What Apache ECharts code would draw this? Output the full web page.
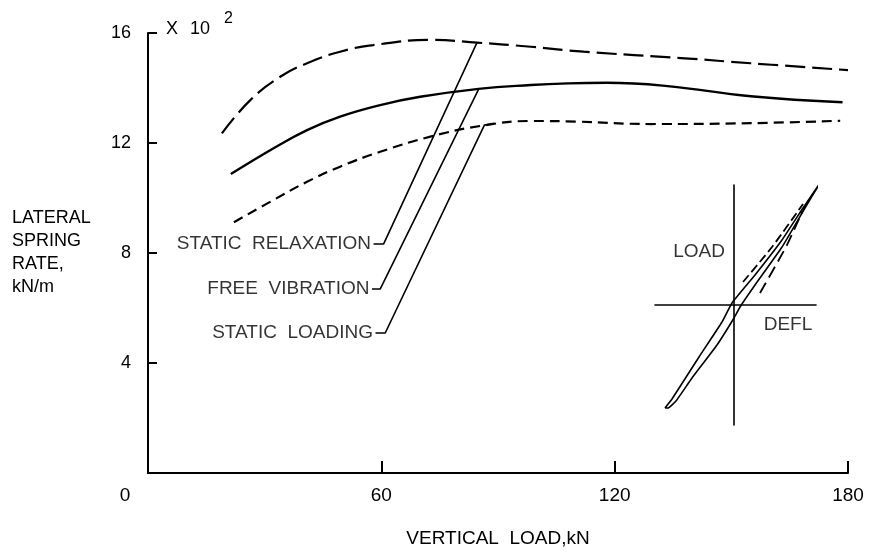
<!DOCTYPE html>
<html>
<head>
<meta charset="utf-8">
<script src="https://cdn.jsdelivr.net/npm/echarts@6/dist/echarts.min.js"></script>
<style>
html,body{margin:0;padding:0;background:#fff;}
#chart{width:870px;height:553px;}
</style>
</head>
<body>
<div id="chart"></div>
<script>
// ---- Data (vertical load kN, lateral spring rate x10^2 kN/m) ----
const relaxLoad = [19, 26.3, 34, 40.9, 49.4, 57.9, 72.6, 84.6, 98.4, 112, 138, 155, 180];
const relaxRate = [12.35, 13.56, 14.41, 14.90, 15.32, 15.56, 15.75, 15.65, 15.50, 15.32, 15.08, 14.90, 14.65];

const vibLoad = [21.3, 32.3, 40.9, 49.4, 59.7, 70, 85, 98.4, 108, 118, 133.6, 155, 178.6];
const vibRate = [10.87, 11.81, 12.47, 12.96, 13.38, 13.68, 13.97, 14.11, 14.17, 14.19, 14.07, 13.70, 13.48];

const loadingLoad = [22.1, 32.3, 40.9, 49.4, 59.7, 72.6, 85.5, 98.4, 110, 129.3, 155, 178];
const loadingRate = [9.12, 9.93, 10.59, 11.14, 11.68, 12.23, 12.62, 12.80, 12.78, 12.69, 12.72, 12.81];

const xTicks = [0, 60, 120, 180];
const yTicks = [0, 4, 8, 12, 16];

// leader lines (data coords) and their labels
const leaderNames = ['STATIC  RELAXATION', 'FREE  VIBRATION', 'STATIC  LOADING'];
const leaderX = [[58.0, 60.6, 84.6], [57.6, 59.7, 85.0], [58.5, 61.0, 86.5, 89]];
const leaderY = [[8.33, 8.33, 15.65], [6.69, 6.69, 13.95], [5.09, 5.09, 12.65, 12.72]];

// inset hysteresis sketch (defl, load; arbitrary units)
const loopDefl = [-69, -62, -35, -12, -2, 21, 48, 69, 86, 71, 48, 21, 6, 0, -17, -42, -58, -66, -69];
const loopLoad = [-103, -94, -52, -17, 2, 30, 65, 97, 122, 97, 58, 20, -2, -13, -40, -73, -96, -103, -103];
const dashUpDefl = [9, 38, 69];
const dashUpLoad = [23, 58, 101];
const dashLowDefl = [26, 53, 68];
const dashLowLoad = [12, 60, 93];
const insetNames = ['LOAD', 'DEFL'];
const insetDefl = [-35, 54];
const insetLoad = [53, -20];

const zip = (a, b) => a.map((v, i) => [v, b[i]]);
const FONT = '"Liberation Sans", Arial, sans-serif';
const lineBase = { type: 'line', smooth: 0.45, symbol: 'none', silent: true };

const chart = echarts.init(document.getElementById('chart'));

const series = [
  Object.assign({}, lineBase, { name: 'Static relaxation', data: zip(relaxLoad, relaxRate),
    lineStyle: { color: '#000', width: 2.2, type: [20, 7] } }),
  Object.assign({}, lineBase, { name: 'Free vibration', data: zip(vibLoad, vibRate),
    lineStyle: { color: '#000', width: 2.4, type: 'solid' } }),
  Object.assign({}, lineBase, { name: 'Static loading', data: zip(loadingLoad, loadingRate),
    lineStyle: { color: '#000', width: 2.2, type: [10, 6] } })
];

leaderX.forEach((xs, k) => {
  series.push({ type: 'line', smooth: false, symbol: 'none', silent: true,
    data: zip(xs, leaderY[k]), lineStyle: { color: '#000', width: 1.6 } });
});

series.push({
  type: 'scatter', symbolSize: 1, silent: true,
  itemStyle: { color: 'rgba(0,0,0,0)' },
  data: leaderNames.map((n, k) => ({ value: [leaderX[k][0], leaderY[k][0]], name: n })),
  label: { show: true, position: 'left', distance: 2, formatter: p => p.name,
    color: '#000', fontSize: 19, fontFamily: FONT }
});

// inset
series.push({ type: 'line', xAxisIndex: 1, yAxisIndex: 1, smooth: 0.12, symbol: 'none', silent: true, clip: false,
  data: zip(loopDefl, loopLoad), lineStyle: { color: '#000', width: 1.6 } });
series.push({ type: 'line', xAxisIndex: 1, yAxisIndex: 1, smooth: 0.2, symbol: 'none', silent: true, clip: false,
  data: zip(dashUpDefl, dashUpLoad), lineStyle: { color: '#000', width: 1.8, type: [9, 4] } });
series.push({ type: 'line', xAxisIndex: 1, yAxisIndex: 1, smooth: 0.2, symbol: 'none', silent: true, clip: false,
  data: zip(dashLowDefl, dashLowLoad), lineStyle: { color: '#000', width: 1.8, type: [12, 6] } });
series.push({
  type: 'scatter', xAxisIndex: 1, yAxisIndex: 1, symbolSize: 1, silent: true, clip: false,
  itemStyle: { color: 'rgba(0,0,0,0)' },
  data: insetNames.map((n, k) => ({ value: [insetDefl[k], insetLoad[k]], name: n })),
  label: { show: true, position: 'inside', formatter: p => p.name,
    color: '#000', fontSize: 19, fontFamily: FONT }
});

const option = {
  backgroundColor: '#fff',
  animation: false,
  textStyle: { fontFamily: FONT, color: '#000' },
  grid: [
    { left: 148, right: 22, top: 33, bottom: 80 },
    { left: 655, width: 161, top: 185, height: 240 }
  ],
  xAxis: [
    { type: 'value', gridIndex: 0, min: xTicks[0], max: xTicks[xTicks.length - 1], interval: 60,
      name: 'VERTICAL  LOAD,kN', nameLocation: 'middle', nameGap: 56,
      nameTextStyle: { fontSize: 19, color: '#000', fontFamily: FONT },
      axisLine: { show: true, lineStyle: { color: '#000', width: 2 } },
      axisTick: { show: true, inside: true, length: 12, lineStyle: { color: '#000', width: 2 } },
      splitLine: { show: false },
      axisLabel: { color: '#000', fontSize: 19, fontFamily: FONT, margin: 13,
        formatter: v => v === 0 ? '{z|0}' : String(v),
        rich: { z: { fontSize: 19, fontFamily: FONT, color: '#000', padding: [0, 46, 0, 0] } } } },
    { type: 'value', gridIndex: 1, min: -79, max: 82, show: true,
      axisLine: { show: true, onZero: true, lineStyle: { color: '#000', width: 1.6 } },
      axisTick: { show: false }, axisLabel: { show: false }, splitLine: { show: false } }
  ],
  yAxis: [
    { type: 'value', gridIndex: 0, min: yTicks[0], max: yTicks[yTicks.length - 1], interval: 4,
      name: 'LATERAL\nSPRING\nRATE,\nkN/m', nameLocation: 'middle', nameGap: 136, nameRotate: 0,
      nameTextStyle: { fontSize: 18, color: '#000', fontFamily: FONT, align: 'left', lineHeight: 23 },
      axisLine: { show: true, lineStyle: { color: '#000', width: 2 } },
      axisTick: { show: true, inside: true, length: 9, lineStyle: { color: '#000', width: 2 } },
      splitLine: { show: false },
      axisLabel: { color: '#000', fontSize: 18, fontFamily: FONT, margin: 17, showMinLabel: false } },
    { type: 'value', gridIndex: 1, min: -120, max: 120, show: true,
      axisLine: { show: true, onZero: true, lineStyle: { color: '#000', width: 1.6 } },
      axisTick: { show: false }, axisLabel: { show: false }, splitLine: { show: false } }
  ],
  graphic: [
    { type: 'text', x: 166, y: 29, style: { text: 'X', fontSize: 18, fontFamily: FONT, fill: '#000', verticalAlign: 'middle' } },
    { type: 'text', x: 190, y: 29, style: { text: '10', fontSize: 18, fontFamily: FONT, fill: '#000', verticalAlign: 'middle' } },
    { type: 'text', x: 224, y: 19, style: { text: '2', fontSize: 16, fontFamily: FONT, fill: '#000', verticalAlign: 'middle' } }
  ],
  series: series
};
chart.setOption(option);
</script>
</body>
</html>
